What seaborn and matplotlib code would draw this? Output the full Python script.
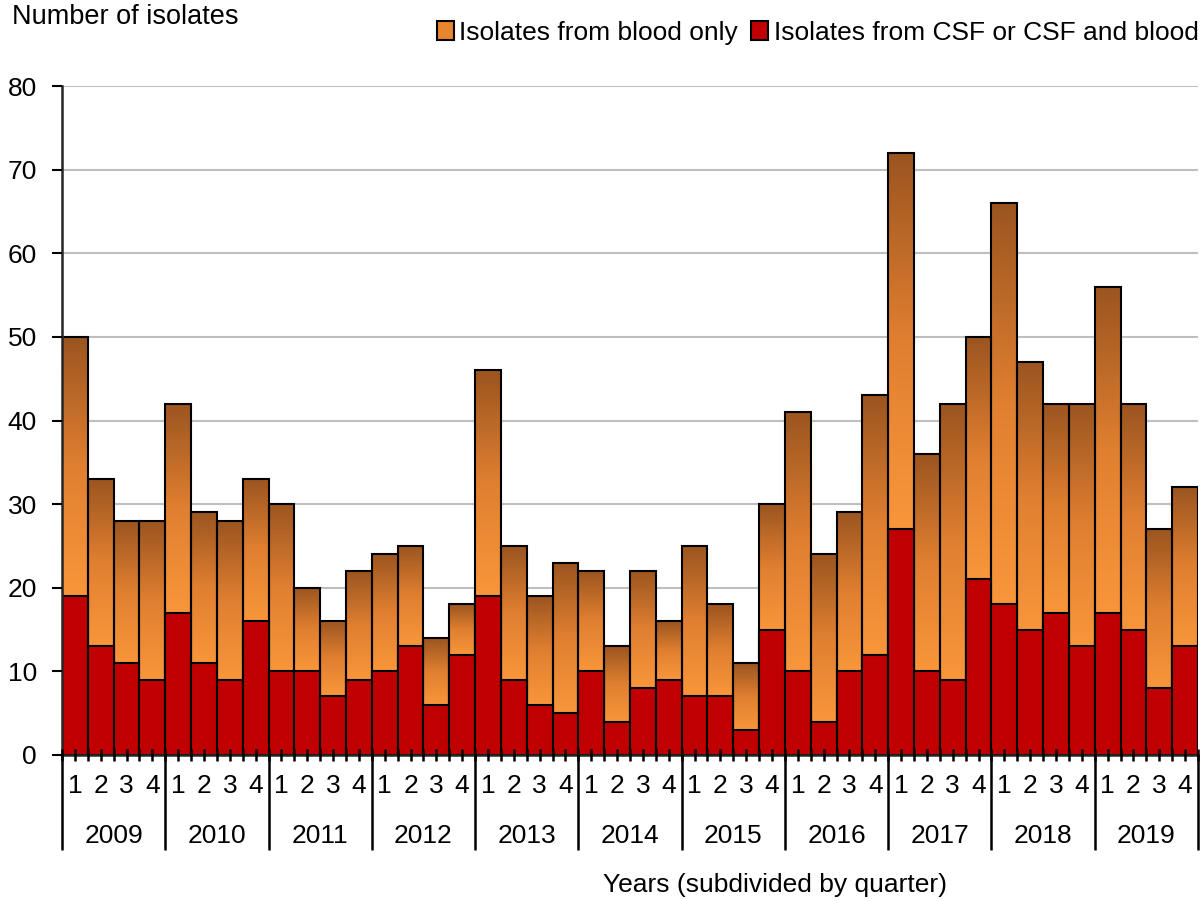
import numpy as np
import pandas as pd
import matplotlib
matplotlib.use("Agg")
import matplotlib.pyplot as plt
from matplotlib.colors import LinearSegmentedColormap
from matplotlib.patches import Patch
import seaborn as sns

years = ["2009", "2010", "2011", "2012", "2013", "2014", "2015", "2016", "2017", "2018", "2019"]
quarters = ["1", "2", "3", "4"]

# Total isolates per quarter (blood only + CSF)
total = [50, 33, 28, 28,
         42, 29, 28, 33,
         30, 20, 16, 22,
         24, 25, 14, 18,
         46, 25, 19, 23,
         22, 13, 22, 16,
         25, 18, 11, 30,
         41, 24, 29, 43,
         72, 36, 42, 50,
         66, 47, 42, 42,
         56, 42, 27, 32]
# Isolates from CSF or CSF and blood
csf = [19, 13, 11, 9,
       17, 11, 9, 16,
       10, 10, 7, 9,
       10, 13, 6, 12,
       19, 9, 6, 5,
       10, 4, 8, 9,
       7, 7, 3, 15,
       10, 4, 10, 12,
       27, 10, 9, 21,
       18, 15, 17, 13,
       17, 15, 8, 13]

sns.set_theme(style="white")
plt.rcParams["font.family"] = ["Liberation Sans", "DejaVu Sans"]
plt.rcParams["text.color"] = "black"
plt.rcParams["xtick.color"] = "black"
plt.rcParams["ytick.color"] = "black"
FS = 19

df = pd.DataFrame({
    "slot": [f"{y}-{q}" for y in years for q in quarters],
    "total": total,
    "csf": csf,
})

fig = plt.figure(figsize=(12.03, 9.01), dpi=100)
ax = fig.add_axes([62 / 1203, 146 / 901, (1198 - 62) / 1203, (755 - 86) / 901])

edge_kw = dict(edgecolor="black", linewidth=1.5, width=1.0)
sns.barplot(data=df, x="slot", y="total", color="#E8862F", saturation=1, ax=ax, **edge_kw)
n_total = len(ax.patches)
sns.barplot(data=df, x="slot", y="csf", color="#C00000", saturation=1, ax=ax, **edge_kw)

# vertical gradient for the blood-only segments: brown at the top, light orange below
grad = LinearSegmentedColormap.from_list("blood", ["#F9963B", "#E07F30", "#9B5520"])
gimg = np.linspace(0, 1, 256).reshape(-1, 1)
for i, p in enumerate(ax.patches[:n_total]):
    x0 = p.get_x()
    w = p.get_width()
    top = p.get_height()
    bottom = csf[i]
    p.set_facecolor("none")
    p.set_zorder(2)
    im = ax.imshow(gimg, cmap=grad, aspect="auto", origin="lower",
                   extent=(x0, x0 + w, bottom, top), zorder=1.5, interpolation="bilinear")
    im.set_clip_path(p)
for p in ax.patches[n_total:]:
    p.set_zorder(2)

n = len(total)
ax.set_xlim(-0.5, n - 0.5)
ax.set_ylim(0, 80)
yt = list(range(0, 81, 10))
ax.set_yticks(yt)
for v in yt[1:]:
    ax.axhline(v, color="#BFBFBF", linewidth=1.5, zorder=0.5)
ax.set_axisbelow(False)
ax.tick_params(axis="y", labelsize=FS, length=7, width=1.5, direction="out", left=True, pad=11)
for s in ["top", "right"]:
    ax.spines[s].set_visible(False)
ax.spines["left"].set_linewidth(1.8)
ax.spines["bottom"].set_linewidth(1.8)
ax.set_xlabel("")
ax.set_ylabel("")

# ticks at bar centres and bar boundaries, crossing the baseline
ax.set_xticks(np.arange(-0.5, n, 0.5))
ax.set_xticklabels([])
ax.tick_params(axis="x", length=9, width=1.8, direction="inout", bottom=True)

trans = ax.get_xaxis_transform()
# quarter and year labels
for i in range(n):
    ax.text(i, -0.046, quarters[i % 4], transform=trans, ha="center", va="center", fontsize=FS)
for j, y in enumerate(years):
    ax.text(4 * j + 1.5, -0.121, y, transform=trans, ha="center", va="center", fontsize=FS)
# year separators
for j in range(len(years) + 1):
    ax.plot([4 * j - 0.5, 4 * j - 0.5], [0, -0.142], transform=trans, color="black",
            linewidth=1.8, clip_on=False, solid_capstyle="butt")

fig.text(775 / 1203, 1 - 885 / 901, "Years (subdivided by quarter)", ha="center", va="center", fontsize=FS)
fig.text(12 / 1203, 1 - 17 / 901, "Number of isolates", ha="left", va="center", fontsize=19.5)

handles = [Patch(facecolor="#E8862F", edgecolor="black", linewidth=1.5),
           Patch(facecolor="#C00000", edgecolor="black", linewidth=1.5)]
fig.legend(handles, ["Isolates from blood only", "Isolates from CSF or CSF and blood"],
           loc="center right", bbox_to_anchor=(1.005, 1 - 33 / 901), ncol=2, frameon=False,
           fontsize=FS, handlelength=0.65, handleheight=0.75, handletextpad=0.2,
           columnspacing=0.5, borderaxespad=0)

fig.savefig("out.png", dpi=100)
